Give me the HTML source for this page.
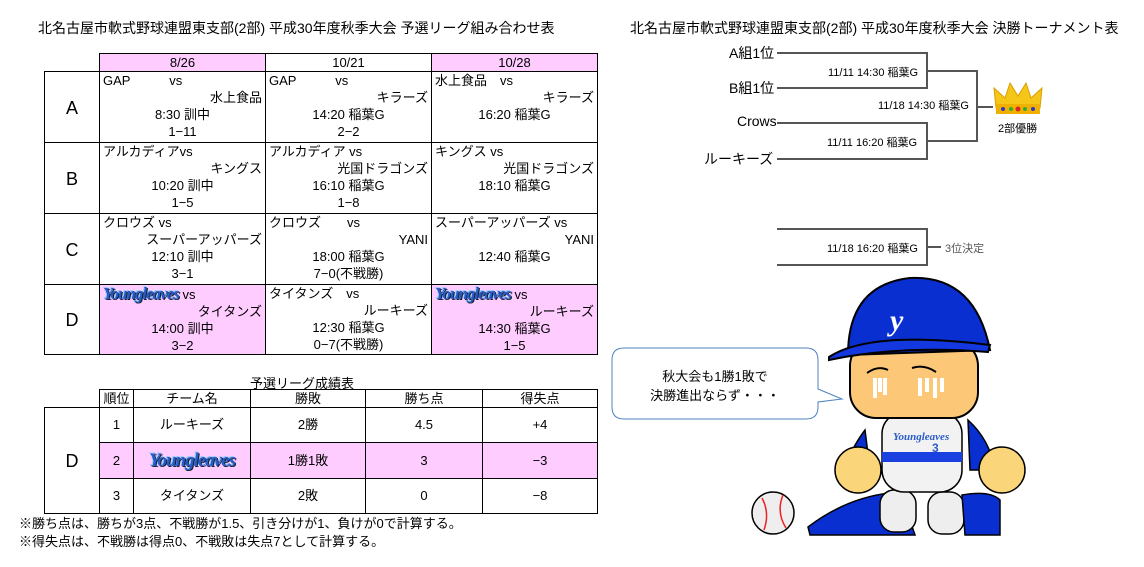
<!DOCTYPE html>
<html><head><meta charset="utf-8">
<style>
body{margin:0;width:1144px;height:567px;background:#fff;position:relative;overflow:hidden;font-family:"Liberation Sans","Noto Sans CJK JP",sans-serif;color:#000}
.a{position:absolute;white-space:nowrap}
.c{position:absolute;border:1px solid #000;box-sizing:border-box}
.t{font-size:13px;line-height:17px}
.yl{font-family:"Liberation Serif",serif;font-style:italic;font-weight:bold;color:#2a5cc8;font-size:17px;letter-spacing:-1px;text-shadow:1px 1px 0 #123,-1px -1px 0 #9cf}
</style></head><body>
<div class="a" style="left:38px;top:18px;font-size:14px">北名古屋市軟式野球連盟東支部(2部) 平成30年度秋季大会 予選リーグ組み合わせ表</div>

<!-- header -->
<div class="c" style="left:99px;top:53px;width:167px;height:19px;background:#fcf;text-align:center;font-size:13px;line-height:17px">8/26</div>
<div class="c" style="left:265px;top:53px;width:167px;height:19px;text-align:center;font-size:13px;line-height:17px">10/21</div>
<div class="c" style="left:431px;top:53px;width:167px;height:19px;background:#fcf;text-align:center;font-size:13px;line-height:17px">10/28</div>

<!-- group cells -->
<div class="c" style="left:44px;top:71px;width:56px;height:72px;font-size:18px;text-align:center;line-height:72px">A</div>
<div class="c" style="left:44px;top:142px;width:56px;height:72px;font-size:18px;text-align:center;line-height:72px">B</div>
<div class="c" style="left:44px;top:213px;width:56px;height:72px;font-size:18px;text-align:center;line-height:72px">C</div>
<div class="c" style="left:44px;top:284px;width:56px;height:71px;font-size:18px;text-align:center;line-height:71px">D</div>

<!-- match cells -->
<div class="c t" style="left:99px;top:71px;width:167px;height:72px;padding:0 3px"><div>GAP　　　vs</div><div style="text-align:right">水上食品</div><div style="text-align:center">8:30 訓中</div><div style="text-align:center">1−11</div></div>
<div class="c t" style="left:265px;top:71px;width:167px;height:72px;padding:0 3px"><div>GAP　　　vs</div><div style="text-align:right">キラーズ</div><div style="text-align:center">14:20 稲葉G</div><div style="text-align:center">2−2</div></div>
<div class="c t" style="left:431px;top:71px;width:167px;height:72px;padding:0 3px"><div>水上食品　vs</div><div style="text-align:right">キラーズ</div><div style="text-align:center">16:20 稲葉G</div></div>

<div class="c t" style="left:99px;top:142px;width:167px;height:72px;padding:0 3px"><div>アルカディアvs</div><div style="text-align:right">キングス</div><div style="text-align:center">10:20 訓中</div><div style="text-align:center">1−5</div></div>
<div class="c t" style="left:265px;top:142px;width:167px;height:72px;padding:0 3px"><div>アルカディア vs</div><div style="text-align:right">光国ドラゴンズ</div><div style="text-align:center">16:10 稲葉G</div><div style="text-align:center">1−8</div></div>
<div class="c t" style="left:431px;top:142px;width:167px;height:72px;padding:0 3px"><div>キングス vs</div><div style="text-align:right">光国ドラゴンズ</div><div style="text-align:center">18:10 稲葉G</div></div>

<div class="c t" style="left:99px;top:213px;width:167px;height:72px;padding:0 3px"><div>クロウズ vs</div><div style="text-align:right">スーパーアッパーズ</div><div style="text-align:center">12:10 訓中</div><div style="text-align:center">3−1</div></div>
<div class="c t" style="left:265px;top:213px;width:167px;height:72px;padding:0 3px"><div>クロウズ　　vs</div><div style="text-align:right">YANI</div><div style="text-align:center">18:00 稲葉G</div><div style="text-align:center">7−0(不戦勝)</div></div>
<div class="c t" style="left:431px;top:213px;width:167px;height:72px;padding:0 3px"><div>スーパーアッパーズ vs</div><div style="text-align:right">YANI</div><div style="text-align:center">12:40 稲葉G</div></div>

<div class="c t" style="left:99px;top:284px;width:167px;height:71px;padding:0 3px;background:#fcf"><div><span class="yl">Youngleaves</span> vs</div><div style="text-align:right">タイタンズ</div><div style="text-align:center">14:00 訓中</div><div style="text-align:center">3−2</div></div>
<div class="c t" style="left:265px;top:284px;width:167px;height:71px;padding:0 3px"><div>タイタンズ　vs</div><div style="text-align:right">ルーキーズ</div><div style="text-align:center">12:30 稲葉G</div><div style="text-align:center">0−7(不戦勝)</div></div>
<div class="c t" style="left:431px;top:284px;width:167px;height:71px;padding:0 3px;background:#fcf"><div><span class="yl">Youngleaves</span> vs</div><div style="text-align:right">ルーキーズ</div><div style="text-align:center">14:30 稲葉G</div><div style="text-align:center">1−5</div></div>

<!-- standings -->
<div class="a" style="left:250px;top:373px;font-size:13px">予選リーグ成績表</div>
<div class="c t" style="left:99px;top:389px;width:35px;height:19px;text-align:center">順位</div>
<div class="c t" style="left:133px;top:389px;width:118px;height:19px;text-align:center">チーム名</div>
<div class="c t" style="left:250px;top:389px;width:116px;height:19px;text-align:center">勝敗</div>
<div class="c t" style="left:365px;top:389px;width:118px;height:19px;text-align:center">勝ち点</div>
<div class="c t" style="left:482px;top:389px;width:116px;height:19px;text-align:center">得失点</div>
<div class="c" style="left:44px;top:407px;width:56px;height:107px;font-size:18px;text-align:center;line-height:107px">D</div>

<div class="c t" style="left:99px;top:407px;width:35px;height:36px;line-height:34px;text-align:center">1</div>
<div class="c t" style="left:133px;top:407px;width:118px;height:36px;line-height:34px;text-align:center">ルーキーズ</div>
<div class="c t" style="left:250px;top:407px;width:116px;height:36px;line-height:34px;text-align:center">2勝</div>
<div class="c t" style="left:365px;top:407px;width:118px;height:36px;line-height:34px;text-align:center">4.5</div>
<div class="c t" style="left:482px;top:407px;width:116px;height:36px;line-height:34px;text-align:center">+4</div>

<div class="c t" style="left:99px;top:442px;width:35px;height:37px;line-height:35px;text-align:center;background:#fcf">2</div>
<div class="c t" style="left:133px;top:442px;width:118px;height:37px;line-height:35px;text-align:center;background:#fcf"><span class="yl" style="font-size:19px">Youngleaves</span></div>
<div class="c t" style="left:250px;top:442px;width:116px;height:37px;line-height:35px;text-align:center;background:#fcf">1勝1敗</div>
<div class="c t" style="left:365px;top:442px;width:118px;height:37px;line-height:35px;text-align:center;background:#fcf">3</div>
<div class="c t" style="left:482px;top:442px;width:116px;height:37px;line-height:35px;text-align:center;background:#fcf">−3</div>

<div class="c t" style="left:99px;top:478px;width:35px;height:36px;line-height:34px;text-align:center">3</div>
<div class="c t" style="left:133px;top:478px;width:118px;height:36px;line-height:34px;text-align:center">タイタンズ</div>
<div class="c t" style="left:250px;top:478px;width:116px;height:36px;line-height:34px;text-align:center">2敗</div>
<div class="c t" style="left:365px;top:478px;width:118px;height:36px;line-height:34px;text-align:center">0</div>
<div class="c t" style="left:482px;top:478px;width:116px;height:36px;line-height:34px;text-align:center">−8</div>

<div class="a t" style="left:19px;top:515px">※勝ち点は、勝ちが3点、不戦勝が1.5、引き分けが1、負けが0で計算する。</div>
<div class="a t" style="left:19px;top:533px">※得失点は、不戦勝は得点0、不戦敗は失点7として計算する。</div>

<!-- tournament -->
<div class="a" style="left:630px;top:18px;font-size:14px">北名古屋市軟式野球連盟東支部(2部) 平成30年度秋季大会 決勝トーナメント表</div>
<svg class="a" style="left:0;top:0" width="1144" height="567">
<g stroke="#555" stroke-width="2" fill="none">
<polyline points="777,53 927,53 927,88 777,88"/>
<polyline points="927,71 977,71 977,141 927,141"/>
<polyline points="777,123 927,123 927,159 777,159"/>
<line x1="977" y1="107" x2="993" y2="107"/>
<polyline points="777,229 927,229 927,265 777,265"/>
<line x1="927" y1="247" x2="941" y2="247"/>
</g>
<!-- crown -->
<g>
<path d="M996,108 L994,88 L1005,98 L1010,83 L1018,96 L1026,83 L1031,98 L1042,88 L1040,108 Z" fill="#f5c518" stroke="#d9a000"/>
<rect x="996" y="104" width="44" height="10" fill="#f0b000"/>
<circle cx="1003" cy="109" r="2" fill="#33c"/><circle cx="1011" cy="109" r="2" fill="#3a3"/><circle cx="1018" cy="109" r="2.5" fill="#d22"/><circle cx="1025" cy="109" r="2" fill="#3a3"/><circle cx="1033" cy="109" r="2" fill="#33c"/>
</g>
<!-- speech bubble -->
<path d="M624,348 L806,348 Q818,348 818,360 L818,389 L842,399 L818,402 L818,407 Q818,419 806,419 L624,419 Q612,419 612,407 L612,360 Q612,348 624,348 Z" fill="#fff" stroke="#4f81bd" stroke-width="1"/>
<!-- ball -->
<circle cx="773" cy="513" r="21" fill="#eee" stroke="#000" stroke-width="1.5"/>
<path d="M762,498 Q770,513 764,530" stroke="#e22" stroke-width="1.5" fill="none"/>
<path d="M783,495 Q776,512 786,528" stroke="#e22" stroke-width="1.5" fill="none"/>
<!-- legs -->
<path d="M808,527 Q850,495 900,492 L915,535 L810,535 Z" fill="#0a2fd0" stroke="#000" stroke-width="1.5"/>
<rect x="880" y="490" width="36" height="42" rx="14" fill="#eee" stroke="#000" stroke-width="1.5"/>
<rect x="928" y="492" width="36" height="42" rx="14" fill="#eee" stroke="#000" stroke-width="1.5"/>
<path d="M962,495 Q990,490 1000,500 L1000,535 L965,535 Z" fill="#0a2fd0" stroke="#000" stroke-width="1.5"/>
<!-- body -->
<path d="M865,430 Q850,450 845,470 L870,470 Z" fill="#0a2fd0" stroke="#000" stroke-width="1.5"/>
<path d="M968,420 Q990,440 995,470 L970,470 Z" fill="#0a2fd0" stroke="#000" stroke-width="1.5"/>
<rect x="882" y="412" width="80" height="80" rx="22" fill="#f2f2f2" stroke="#000" stroke-width="1.5"/>
<rect x="882" y="452" width="80" height="10" fill="#1a40e0"/>
<text x="893" y="440" font-family="Liberation Serif" font-style="italic" font-weight="bold" font-size="11" fill="#2a5cc8">Youngleaves</text>
<text x="932" y="452" font-family="Liberation Sans" font-weight="bold" font-size="12" fill="#2a5cc8">3</text>
<circle cx="858" cy="470" r="23" fill="#fbd57a" stroke="#000" stroke-width="1.5"/>
<circle cx="1002" cy="470" r="23" fill="#fbd57a" stroke="#000" stroke-width="1.5"/>
<!-- face -->
<rect x="850" y="340" width="128" height="78" rx="26" fill="#fcc878" stroke="#000" stroke-width="2"/>
<path d="M875,378 L875,398 M880,378 L880,392 M885,378 L885,395 M920,378 L920,396 M927,378 L927,392 M935,378 L935,398 M942,378 L942,392" stroke="#fff" stroke-width="4"/>
<path d="M867,373 Q878,365 888,370 M912,368 Q924,364 936,372" stroke="#000" stroke-width="2" fill="none"/>
<!-- hat -->
<path d="M848,355 Q848,285 910,278 Q975,275 990,350 Z" fill="#0a2fd0" stroke="#000" stroke-width="2"/>
<path d="M829,357 Q870,330 990,345 L988,352 Q900,345 829,360 Z" fill="#1338e0" stroke="#000" stroke-width="2"/>
<text x="890" y="330" font-family="Liberation Serif" font-style="italic" font-weight="bold" font-size="30" fill="#fff">y</text>
</svg>
<div class="a" style="left:729px;top:43px;font-size:14px">A組1位</div>
<div class="a" style="left:729px;top:78px;font-size:14px">B組1位</div>
<div class="a" style="left:737px;top:113px;font-size:14px">Crows</div>
<div class="a" style="left:704px;top:149px;font-size:14px">ルーキーズ</div>
<div class="a" style="left:828px;top:64px;font-size:11px">11/11 14:30 稲葉G</div>
<div class="a" style="left:878px;top:97px;font-size:11px">11/18 14:30 稲葉G</div>
<div class="a" style="left:827px;top:134px;font-size:11px">11/11 16:20 稲葉G</div>
<div class="a" style="left:827px;top:240px;font-size:11px">11/18 16:20 稲葉G</div>
<div class="a" style="left:945px;top:240px;font-size:11px;color:#555">3位決定</div>
<div class="a" style="left:998px;top:120px;font-size:11px">2部優勝</div>
<div class="a" style="left:612px;top:367px;width:206px;text-align:center;font-size:13px;line-height:19px">秋大会も1勝1敗で<br>決勝進出ならず・・・</div>
</body></html>
